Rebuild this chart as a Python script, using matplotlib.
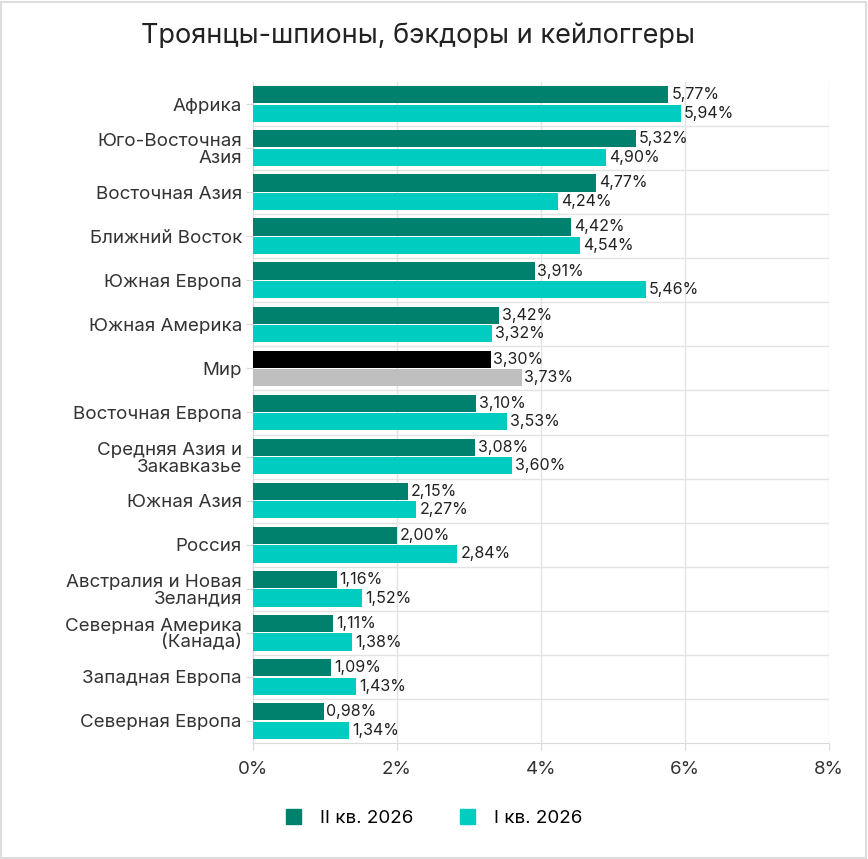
import matplotlib.pyplot as plt
import numpy as np

regions = ['Африка', 'Юго-Восточная\nАзия', 'Восточная Азия', 'Ближний Восток',
           'Южная Европа', 'Южная Америка', 'Мир', 'Восточная Европа',
           'Средняя Азия и\nЗакавказье', 'Южная Азия', 'Россия',
           'Австралия и Новая\nЗеландия', 'Северная Америка\n(Канада)',
           'Западная Европа', 'Северная Европа']
q2 = [5.77, 5.32, 4.77, 4.42, 3.91, 3.42, 3.30, 3.10, 3.08, 2.15, 2.00, 1.16, 1.11, 1.09, 0.98]
q1 = [5.94, 4.90, 4.24, 4.54, 5.46, 3.32, 3.73, 3.53, 3.60, 2.27, 2.84, 1.52, 1.38, 1.43, 1.34]
series_names = ['II кв. 2026', 'I кв. 2026']
xticks = [0, 2, 4, 6, 8]

plt.rcParams['font.family'] = ['Inter', 'DejaVu Sans']

dark = '#00816D'
light = '#00CCBF'
c_q2 = [dark] * len(regions)
c_q1 = [light] * len(regions)
w = regions.index('Мир')
c_q2[w] = '#000000'
c_q1[w] = '#BFBFBF'

fig = plt.figure(figsize=(8.68, 8.59), dpi=100)
ax = fig.add_axes([253 / 868, 1 - 743 / 859, 576 / 868, 661 / 859])

y = np.arange(len(regions))
h = 0.39
ax.barh(y - 0.21, q2, height=h, color=c_q2, zorder=3)
ax.barh(y + 0.21, q1, height=h, color=c_q1, zorder=3)

for i in range(len(regions)):
    ax.text(q2[i] + 0.04, y[i] - 0.21, f'{q2[i]:.2f}%'.replace('.', ','),
            va='center', ha='left', fontsize=11.5, color='#222222', zorder=4)
    ax.text(q1[i] + 0.04, y[i] + 0.21, f'{q1[i]:.2f}%'.replace('.', ','),
            va='center', ha='left', fontsize=11.5, color='#222222', zorder=4)

ax.set_xlim(0, 8)
ax.set_ylim(len(regions) - 0.5, -0.5)
ax.set_xticks(xticks)
ax.set_xticklabels([f'{t}%' for t in xticks], fontsize=13.5, color='#333333')
ax.set_yticks(y)
ax.set_yticklabels(regions, fontsize=13.5, color='#333333', linespacing=1.0,
                   multialignment='right')
ax.tick_params(axis='y', length=5, color='#D9D9D9', pad=3)
ax.tick_params(axis='x', length=5, color='#D9D9D9', pad=8)

for b in np.arange(0.5, len(regions) - 0.5, 1):
    ax.axhline(b, color='#E3E3E3', lw=1, zorder=1)
for t in xticks[1:]:
    ax.axvline(t, color='#E3E3E3', lw=1, zorder=1)

for s in ['top', 'right']:
    ax.spines[s].set_visible(False)
ax.spines['left'].set_color('#D9D9D9')
ax.spines['bottom'].set_color('#D9D9D9')

fig.text(0.482, 1 - 36 / 859, 'Троянцы-шпионы, бэкдоры и кейлоггеры',
         ha='center', va='center', fontsize=19.5, color='#222222')

handles = [plt.Rectangle((0, 0), 1, 1, color=dark), plt.Rectangle((0, 0), 1, 1, color=light)]
fig.legend(handles, series_names, loc='center', bbox_to_anchor=(0.5, 1 - 818 / 859),
           ncol=2, frameon=False, fontsize=13.5, handlelength=0.8, handleheight=0.8,
           columnspacing=2.5, handletextpad=1.0)

fig.patches.append(plt.Rectangle((0.001, 0.001), 0.997, 0.997, transform=fig.transFigure,
                                 fill=False, edgecolor='#DDDDDD', lw=1.5))

fig.savefig('out.png', dpi=100)
